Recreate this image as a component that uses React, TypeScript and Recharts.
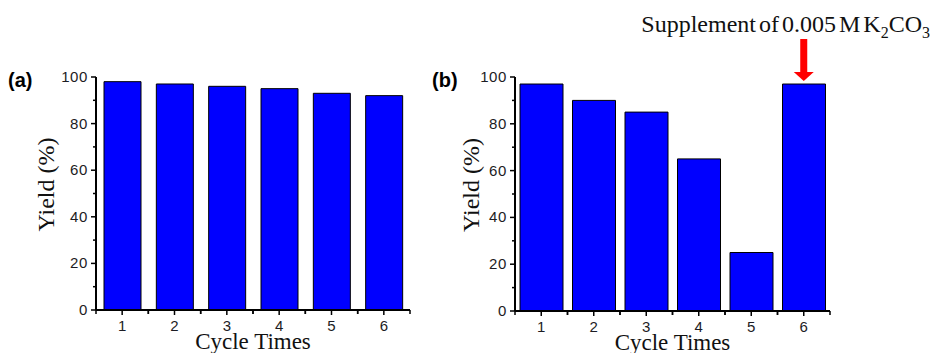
import { Bar, BarChart, ReferenceDot, XAxis, YAxis } from "recharts";

const cycles = ["1", "2", "3", "4", "5", "6"];
const yieldA = [98, 97, 96, 95, 93, 92];
const yieldB = [97, 90, 85, 65, 25, 97];
const yTicks = [0, 10, 20, 30, 40, 50, 60, 70, 80, 90, 100];

const dataA = cycles.map((c, i) => ({ cycle: c, value: yieldA[i] }));
const dataB = cycles.map((c, i) => ({ cycle: c, value: yieldB[i] }));

const SERIF = "'Liberation Serif', 'Times New Roman', serif";
const SANS = "'Liberation Sans', Arial, sans-serif";
const TICK_COLOR = "#1c1c24";

function YTick(props: any) {
  const { x, y, payload } = props;
  const major = payload.value % 20 === 0;
  return (
    <g>
      <line x1={x} x2={x - (major ? 5 : 3)} y1={y} y2={y} stroke="#000" strokeWidth={1.5} />
      {major && (
        <text x={x - 8} y={y + 5} textAnchor="end" fontSize={15} letterSpacing={0.6} fill={TICK_COLOR} fontFamily={SANS}>
          {payload.value}
        </text>
      )}
    </g>
  );
}

function XTick(props: any) {
  const { x, y, payload } = props;
  const half = payload.offset ?? 26;
  return (
    <g>
      <line x1={x} x2={x} y1={y} y2={y + 5} stroke="#000" strokeWidth={1.5} />
      <line x1={x - half} x2={x - half} y1={y} y2={y + 4} stroke="#000" strokeWidth={1.5} />
      <line x1={x + half} x2={x + half} y1={y} y2={y + 4} stroke="#000" strokeWidth={1.5} />
      <text x={x} y={y + 21} textAnchor="middle" fontSize={15} fill={TICK_COLOR} fontFamily={SANS}>
        {payload.value}
      </text>
    </g>
  );
}

function Arrow(props: any) {
  const { cx, cy } = props;
  return (
    <g>
      <rect x={cx - 3.5} y={cy - 45} width={7} height={34} fill="#ff0000" />
      <polygon points={`${cx - 10},${cy - 12} ${cx + 10},${cy - 12} ${cx},${cy - 3}`} fill="#ff0000" />
    </g>
  );
}

function Panel({
  data,
  barSize,
  margin,
  width,
  yLabelDx,
  children,
}: {
  data: { cycle: string; value: number }[];
  barSize: number;
  margin: { top: number; right: number; left: number; bottom: number };
  width: number;
  yLabelDx: number;
  children?: any;
}) {
  return (
    <BarChart width={width} height={353} data={data} margin={margin}>
      <XAxis
        dataKey="cycle"
        height={30}
        tickSize={0}
        tickMargin={0}
        tickLine={false}
        axisLine={{ stroke: "#000", strokeWidth: 2 }}
        tick={<XTick />}
        interval={0}
        label={{
          content: (p: any) => {
            const vb = p.viewBox;
            return (
              <text x={vb.x + vb.width / 2} y={vb.y + 39} textAnchor="middle" fontSize={23} fill="#111" fontFamily={SERIF}>
                Cycle Times
              </text>
            );
          },
        }}
      />
      <YAxis
        width={60}
        domain={[0, 100]}
        ticks={yTicks}
        interval={0}
        tickSize={0}
        tickMargin={0}
        tickLine={false}
        axisLine={{ stroke: "#000", strokeWidth: 2 }}
        tick={<YTick />}
        label={{
          content: (p: any) => {
            const vb = p.viewBox;
            const cx = vb.x + yLabelDx;
            const cy = vb.y + vb.height / 2 - 9;
            return (
              <text
                x={cx}
                y={cy}
                transform={`rotate(-90 ${cx} ${cy})`}
                textAnchor="middle"
                dominantBaseline="central"
                fontSize={24}
                fill="#111"
                fontFamily={SERIF}
              >
                Yield (%)
              </text>
            );
          },
        }}
      />
      <Bar dataKey="value" fill="#0000ff" stroke="#000" strokeWidth={1} barSize={barSize} isAnimationActive={false} />
      {children}
    </BarChart>
  );
}

export default function App() {
  return (
    <div style={{ position: "absolute", left: 0, top: 0, width: 933, height: 353, background: "#fff", overflow: "hidden" }}>
      <div style={{ position: "absolute", left: 0, top: 0 }}>
        <Panel data={dataA} barSize={37} width={420} margin={{ top: 77, right: 10, left: 36, bottom: 13 }} yLabelDx={10} />
      </div>
      <div style={{ position: "absolute", left: 420, top: 0 }}>
        <Panel data={dataB} barSize={43} width={513} margin={{ top: 77, right: 103, left: 35, bottom: 12 }} yLabelDx={16}>
          <ReferenceDot x="6" y={97} r={0} shape={<Arrow />} />
        </Panel>
      </div>
      <div style={{ position: "absolute", left: 8, top: 70, fontFamily: SANS, fontWeight: "bold", fontSize: 20, lineHeight: 1 }}>
        (a)
      </div>
      <div style={{ position: "absolute", left: 432, top: 70, fontFamily: SANS, fontWeight: "bold", fontSize: 20, lineHeight: 1 }}>
        (b)
      </div>
      <div
        style={{
          position: "absolute",
          right: 3,
          top: 12,
          fontFamily: SERIF,
          fontSize: 24,
          lineHeight: 1,
          color: "#111",
          whiteSpace: "nowrap",
          wordSpacing: -3,
        }}
      >
        Supplement of 0.005 M K<sub style={{ fontSize: 16, lineHeight: 0 }}>2</sub>CO<sub style={{ fontSize: 16, lineHeight: 0 }}>3</sub>
      </div>
    </div>
  );
}
